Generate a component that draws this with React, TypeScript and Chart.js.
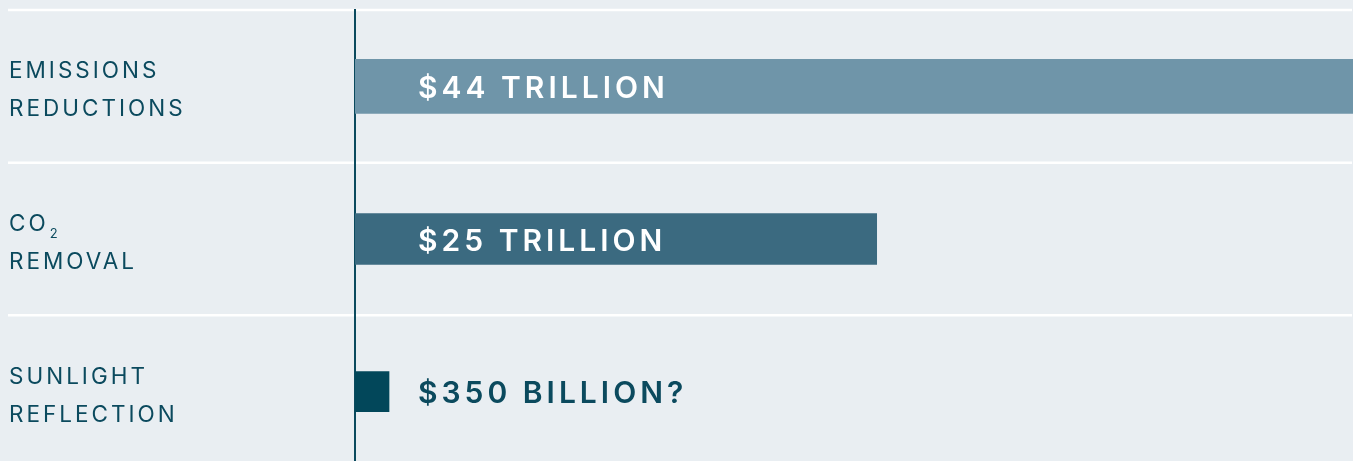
import React, { useEffect, useRef } from "react";
import { Chart, registerables } from "chart.js";

Chart.register(...registerables);

// ---- data ----
const categoryKeys = ["EMISSIONS REDUCTIONS", "CO2 REMOVAL", "SUNLIGHT REFLECTION"];
const categoryLines = [
  ["EMISSIONS", "REDUCTIONS"],
  ["CO|2", "REMOVAL"],
  ["SUNLIGHT", "REFLECTION"],
];
const valueLabels = ["$44 TRILLION", "$25 TRILLION", "$350 BILLION?"];
const barLengths = [44, 23, 1.5];
const barColors = ["#6f95a9", "#3b6a80", "#02475a"];
const barThicknesses = [54, 51, 40];
const valueLabelColors = ["#ffffff", "#ffffff", "#0b4a5e"];

const BG = "#e9eef2";
const TEXT = "#0b4a5e";
const FONT = "Inter, 'Noto Sans', sans-serif";

const overlayPlugin = {
  id: "overlay",
  beforeDraw(chart: any) {
    const ctx = chart.ctx;
    const y = chart.scales.y;
    const n = categoryKeys.length;
    const step = y.getPixelForValue(1) - y.getPixelForValue(0);
    ctx.save();
    ctx.fillStyle = BG;
    ctx.fillRect(0, 0, chart.width, chart.height);
    ctx.strokeStyle = "#ffffff";
    ctx.lineWidth = 2.5;
    for (let i = 0; i <= n; i++) {
      const yy = y.getPixelForValue(0) - step / 2 + i * step;
      ctx.beginPath();
      ctx.moveTo(8, yy);
      ctx.lineTo(chart.width - 1, yy);
      ctx.stroke();
    }
    // category labels
    ctx.fillStyle = TEXT;
    ctx.textBaseline = "alphabetic";
    ctx.textAlign = "left";
    for (let i = 0; i < n; i++) {
      const cy = y.getPixelForValue(i);
      categoryLines[i].forEach((line, k) => {
        const base = cy - 8 + k * 38;
        ctx.font = `400 22.5px ${FONT}`;
        (ctx as any).letterSpacing = "3px";
        if (line.includes("|")) {
          const [main, sub] = line.split("|");
          ctx.fillText(main, 9, base);
          const w = ctx.measureText(main).width;
          ctx.font = `400 13px ${FONT}`;
          (ctx as any).letterSpacing = "0px";
          ctx.fillText(sub, 9 + w + 1, base + 7);
        } else {
          ctx.fillText(line, 9, base);
        }
      });
    }
    ctx.restore();
  },
  afterDatasetsDraw(chart: any) {
    const ctx = chart.ctx;
    const x = chart.scales.x;
    const y = chart.scales.y;
    const x0 = x.getPixelForValue(0);
    ctx.save();
    ctx.font = `600 30px ${FONT}`;
    (ctx as any).letterSpacing = "4px";
    ctx.textBaseline = "alphabetic";
    ctx.textAlign = "left";
    valueLabels.forEach((lab, i) => {
      ctx.fillStyle = valueLabelColors[i];
      ctx.fillText(lab, x0 + 63, y.getPixelForValue(i) + 11.5);
    });
    ctx.restore();
  },
};

export default function App() {
  const ref = useRef<HTMLCanvasElement>(null);

  useEffect(() => {
    document.body.style.margin = "0";
    document.body.style.background = BG;
    document.body.style.overflow = "hidden";
    const canvas = ref.current!;
    const chart = new Chart(canvas, {
      type: "bar",
      data: {
        labels: categoryKeys,
        datasets: barLengths.map((v, i) => ({
          data: categoryKeys.map((_, j) => (j === i ? v : null)),
          backgroundColor: barColors[i],
          barThickness: barThicknesses[i],
          grouped: false,
          borderWidth: 0,
        })) as any,
      },
      options: {
        indexAxis: "y",
        responsive: false,
        animation: false,
        layout: { padding: { top: 10, right: 0, left: 0, bottom: 0 } },
        plugins: { legend: { display: false }, tooltip: { enabled: false } },
        scales: {
          x: {
            display: false,
            min: 0,
            max: 44,
          },
          y: {
            display: true,
            afterFit: (s: any) => {
              s.width = 355;
            },
            ticks: { display: false },
            grid: { display: false, drawTicks: false },
            border: { display: true, color: TEXT, width: 2 },
          },
        },
      } as any,
      plugins: [overlayPlugin],
    });
    return () => chart.destroy();
  }, []);

  return (
    <div style={{ position: "absolute", left: 0, top: 0, width: 1353, height: 468, background: BG }}>
      <canvas ref={ref} width={1353} height={468} style={{ display: "block" }} />
    </div>
  );
}
